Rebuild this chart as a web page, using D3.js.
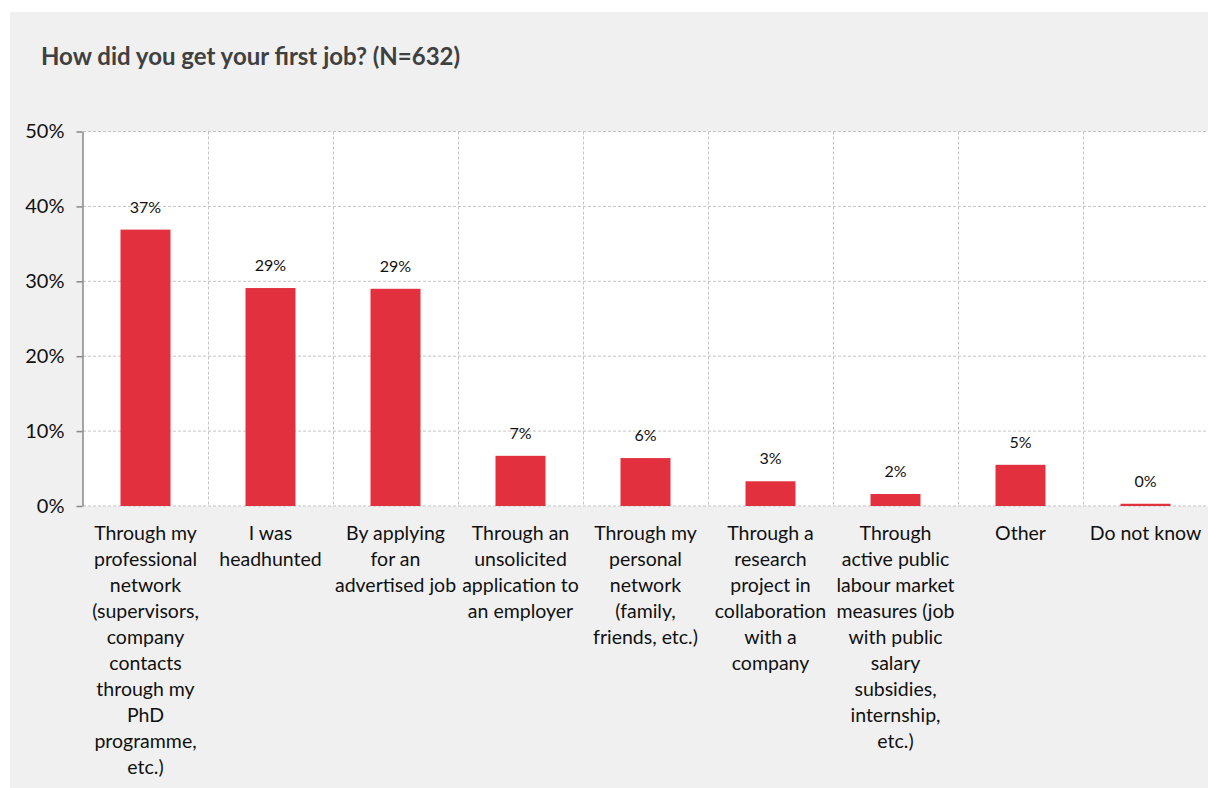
<!DOCTYPE html>
<html><head><meta charset="utf-8">
<script src="https://cdn.jsdelivr.net/npm/d3@7"></script>
<style>
html,body{margin:0;padding:0;background:#fff;}
svg{display:block;font-family:Lato, "Open Sans", sans-serif;}
</style></head>
<body>
<svg id="chart" width="1208" height="788"></svg>
<script>
const title = "How did you get your first job? (N=632)";
const categories = [
  ["Through my","professional","network","(supervisors,","company","contacts","through my","PhD","programme,","etc.)"],
  ["I was","headhunted"],
  ["By applying","for an","advertised job"],
  ["Through an","unsolicited","application to","an employer"],
  ["Through my","personal","network","(family,","friends, etc.)"],
  ["Through a","research","project in","collaboration","with a","company"],
  ["Through","active public","labour market","measures (job","with public","salary","subsidies,","internship,","etc.)"],
  ["Other"],
  ["Do not know"]
];
const values = [36.9, 29.1, 29.0, 6.7, 6.4, 3.3, 1.6, 5.5, 0.3];
const valueLabels = ["37%","29%","29%","7%","6%","3%","2%","5%","0%"];
const yTicks = [0,10,20,30,40,50];

(function(){
const svg = d3.select("#chart");
svg.append("rect").attr("x",10).attr("y",12).attr("width",1198).attr("height",776).attr("fill","#f0f0f0");

const pL=83, pR=1208, pT=131.5, pB=506;
const x = d3.scaleBand().domain(d3.range(categories.length)).range([pL,pR]).paddingInner(0.6).paddingOuter(0.3);
const xc = d3.scaleBand().domain(d3.range(categories.length)).range([pL,pR]);
const y = d3.scaleLinear().domain([0,50]).range([pB,pT]);

svg.append("rect").attr("x",pL).attr("y",pT).attr("width",pR-pL).attr("height",pB-pT).attr("fill","#fff");

const g = svg.append("g");
g.selectAll("line.h").data(yTicks).join("line")
  .attr("x1",pL).attr("x2",pR).attr("y1",d=>y(d)).attr("y2",d=>y(d))
  .attr("stroke","#c4c4c4").attr("stroke-dasharray","3,2").attr("stroke-width",1);
g.selectAll("line.v").data(d3.range(1,categories.length)).join("line")
  .attr("x1",d=>xc(d)+0.5).attr("x2",d=>xc(d)+0.5).attr("y1",pT).attr("y2",pB)
  .attr("stroke","#c4c4c4").attr("stroke-dasharray","3,2").attr("stroke-width",1);

svg.selectAll("rect.bar").data(values).join("rect").attr("class","bar")
  .attr("x",(d,i)=>x(i)).attr("width",x.bandwidth())
  .attr("y",d=>y(d)).attr("height",d=>pB-y(d))
  .attr("fill","#e3303f");

svg.selectAll("text.val").data(values).join("text").attr("class","val")
  .attr("x",(d,i)=>x(i)+x.bandwidth()/2).attr("y",d=>y(d)-17)
  .attr("text-anchor","middle").attr("font-size",16).attr("fill","#111")
  .text((d,i)=>valueLabels[i]);

const yAxis = d3.axisLeft(y).tickValues(yTicks).tickFormat(d=>d+"%").tickSize(6).tickSizeOuter(0);
const ya = svg.append("g").attr("transform",`translate(${pL-0.5},0)`).call(yAxis);
ya.select(".domain").attr("stroke","#888").attr("stroke-width",1.5);
ya.selectAll(".tick line").attr("stroke","#888").attr("stroke-width",1.5);
ya.selectAll(".tick text").attr("font-size",20).attr("fill","#111").attr("x",-18).attr("font-family","Lato, sans-serif");

const xl = svg.selectAll("text.cat").data(categories).join("text").attr("class","cat")
  .attr("text-anchor","middle").attr("font-size",19.5).attr("fill","#111");
xl.each(function(lines,i){
  const t = d3.select(this);
  lines.forEach((ln,j)=>{
    t.append("tspan").attr("x",xc(i)+xc.bandwidth()/2).attr("y",540+j*26).text(ln);
  });
});

svg.append("text").attr("x",41).attr("y",65).attr("font-size",24).attr("font-weight","bold")
  .attr("fill","#404040").text(title);
})();
</script>
</body></html>
